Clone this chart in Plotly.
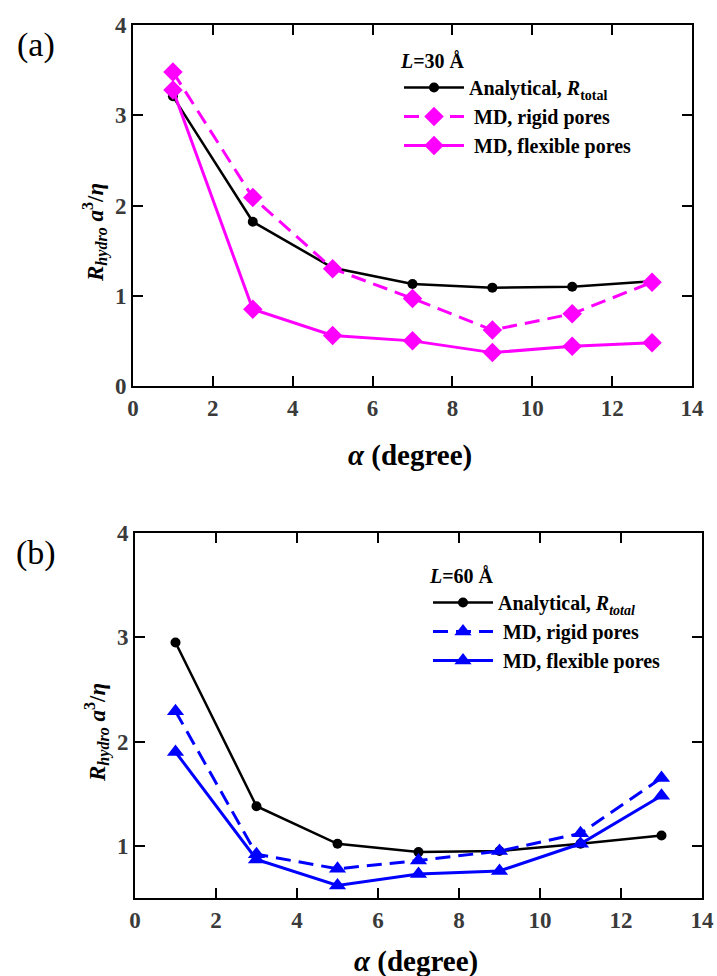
import plotly.graph_objects as go

# ---- data ----
alpha = [1, 3, 5, 7, 9, 11, 13]

a_analytical = [3.21, 1.82, 1.31, 1.13, 1.09, 1.10, 1.16]
a_md_rigid = [3.48, 2.09, 1.30, 0.97, 0.62, 0.80, 1.15]
a_md_flexible = [3.28, 0.85, 0.56, 0.50, 0.37, 0.44, 0.48]

b_analytical = [2.95, 1.38, 1.02, 0.94, 0.95, 1.02, 1.10]
b_md_rigid = [2.29, 0.92, 0.78, 0.86, 0.95, 1.12, 1.65]
b_md_flexible = [1.90, 0.87, 0.62, 0.73, 0.76, 1.02, 1.48]

x_ticks = [0, 2, 4, 6, 8, 10, 12, 14]
ya_ticks = [0, 1, 2, 3, 4]
yb_ticks = [1, 2, 3, 4]

MAGENTA = "#FF00FF"
BLUE = "#0000FF"
SERIF = "Liberation Serif"
DASH = "15px,8px"

fig = go.Figure()

# Panel (a)
fig.add_trace(go.Scatter(x=alpha, y=a_analytical, mode="lines+markers",
                         name="<b>Analytical, <i>R</i><sub>total</sub></b>",
                         line=dict(color="black", width=2.5),
                         marker=dict(symbol="circle", size=10, color="black"),
                         xaxis="x", yaxis="y", legend="legend"))
fig.add_trace(go.Scatter(x=alpha, y=a_md_rigid, mode="lines+markers",
                         name="<b> MD, rigid pores</b>",
                         line=dict(color=MAGENTA, width=3, dash=DASH),
                         marker=dict(symbol="diamond", size=15, color=MAGENTA),
                         xaxis="x", yaxis="y", legend="legend"))
fig.add_trace(go.Scatter(x=alpha, y=a_md_flexible, mode="lines+markers",
                         name="<b> MD, flexible pores</b>",
                         line=dict(color=MAGENTA, width=3),
                         marker=dict(symbol="diamond", size=15, color=MAGENTA),
                         xaxis="x", yaxis="y", legend="legend"))

# Panel (b)
fig.add_trace(go.Scatter(x=alpha, y=b_analytical, mode="lines+markers",
                         name="<b>Analytical, <i>R<sub>total</sub></i></b>",
                         line=dict(color="black", width=2.5),
                         marker=dict(symbol="circle", size=10, color="black"),
                         xaxis="x2", yaxis="y2", legend="legend2"))
fig.add_trace(go.Scatter(x=alpha, y=b_md_rigid, mode="lines+markers",
                         name="<b> MD, rigid pores</b>",
                         line=dict(color=BLUE, width=3, dash=DASH),
                         marker=dict(symbol="triangle-up", size=15, color=BLUE),
                         xaxis="x2", yaxis="y2", legend="legend2"))
fig.add_trace(go.Scatter(x=alpha, y=b_md_flexible, mode="lines+markers",
                         name="<b> MD, flexible pores</b>",
                         line=dict(color=BLUE, width=3),
                         marker=dict(symbol="triangle-up", size=15, color=BLUE),
                         xaxis="x2", yaxis="y2", legend="legend2"))

W, H = 717, 976


def px_x(p):
    return p / W


def px_y(p):
    return 1 - p / H


def bold_ticks(vals):
    return [f"<b>{v}</b>" for v in vals]


axis_common = dict(showline=True, linewidth=2, linecolor="black", mirror="ticks",
                   ticks="inside", ticklen=10, tickwidth=2, tickcolor="black",
                   showgrid=False, zeroline=False, automargin=False,
                   tickfont=dict(family=SERIF, size=23, color="#3a3a3a"))

fig.update_layout(
    width=W, height=H,
    autosize=False,
    margin=dict(l=0, r=0, t=0, b=0, pad=0, autoexpand=False),
    paper_bgcolor="white", plot_bgcolor="white",
    font=dict(family=SERIF, color="black"),
    xaxis=dict(domain=[px_x(133), px_x(692)], range=[0, 14], tickvals=x_ticks,
               ticktext=bold_ticks(x_ticks), anchor="y", **axis_common),
    yaxis=dict(domain=[px_y(386), px_y(25)], range=[0, 4], tickvals=ya_ticks,
               ticktext=bold_ticks(ya_ticks), anchor="x", **axis_common),
    xaxis2=dict(domain=[px_x(135), px_x(702)], range=[0, 14], tickvals=x_ticks,
                ticktext=bold_ticks(x_ticks), anchor="y2", **axis_common),
    yaxis2=dict(domain=[px_y(898), px_y(533)], range=[0.5, 4], tickvals=yb_ticks,
                ticktext=bold_ticks(yb_ticks), anchor="x2", **axis_common),
    legend=dict(x=px_x(399), y=px_y(42), xanchor="left", yanchor="top",
                bgcolor="rgba(0,0,0,0)", borderwidth=0,
                font=dict(family=SERIF, size=20, color="black"),
                title=dict(text="<b><i>L</i>=30 Å</b>", font=dict(family=SERIF, size=20)),
                tracegroupgap=0, itemwidth=60),
    legend2=dict(x=px_x(428), y=px_y(557), xanchor="left", yanchor="top",
                 bgcolor="rgba(0,0,0,0)", borderwidth=0,
                 font=dict(family=SERIF, size=20, color="black"),
                 title=dict(text="<b><i>L</i>=60 Å</b>", font=dict(family=SERIF, size=20)),
                 tracegroupgap=0, itemwidth=60),
    showlegend=True,
)

ytitle = "<b><i>R</i><sub><i>hydro</i></sub> <i>a</i><sup>3</sup>/<i>η</i></b>"
xtitle = "<b><i>α</i> (degree)</b>"


def ann(text, x, y, size, angle=0):
    return dict(text=text, x=px_x(x), y=px_y(y), xref="paper", yref="paper",
                xanchor="center", yanchor="middle", showarrow=False, textangle=angle,
                font=dict(family=SERIF, size=size, color="black"))


annots = [
    ann("(a)", 36, 45, 34),
    ann("(b)", 36, 553, 34),
    ann(xtitle, 410, 455, 29),
    ann(xtitle, 416, 961, 29),
    ann(ytitle, 95, 233, 23, -90),
    ann(ytitle, 97, 733, 23, -90),
]
fig.update_layout(annotations=annots)

fig.write_html(
    "out.html",
    config={"displayModeBar": False},
    post_script="document.body.style.margin='0';document.body.style.padding='0';"
                "document.body.style.overflow='hidden';",
)
